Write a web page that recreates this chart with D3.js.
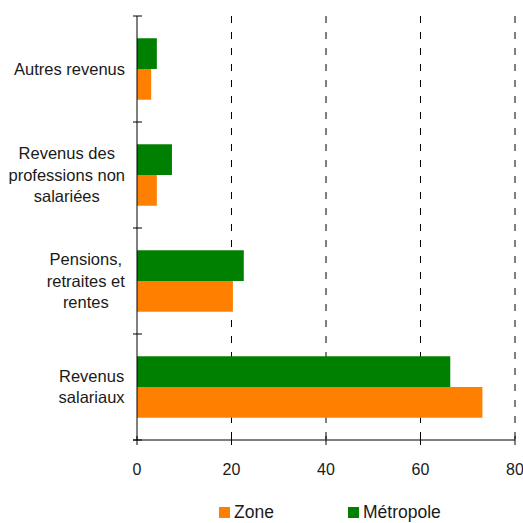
<!DOCTYPE html>
<html>
<head>
<meta charset="utf-8">
<script src="https://cdn.jsdelivr.net/npm/d3@7"></script>
<style>
  body { margin: 0; background: #fff; }
  svg text { font-family: "Liberation Sans", Arial, sans-serif; fill: #1a1a1a; }
</style>
</head>
<body>
<div id="chart"></div>
<script>
// categories, top to bottom
const categories = [
    ['Autres revenus'],
    ['Revenus des', 'professions non', 'salariées'],
    ['Pensions,', 'retraites et', 'rentes'],
    ['Revenus', 'salariaux']
];
const zone = [3.0, 4.2, 20.3, 73.1];
const metropole = [4.2, 7.4, 22.6, 66.3];
const xTicks = [0, 20, 40, 60, 80];
const seriesNames = ['Zone', 'Métropole'];
const seriesColors = ['#ff8000', '#008000'];

const width = 523, height = 523;
const margin = { top: 16, left: 137, right: 8, bottom: 83 };

const svg = d3.select('#chart').append('svg')
    .attr('width', width)
    .attr('height', height);

const x = d3.scaleLinear().domain([0, 80]).range([margin.left, 515]);
const y = d3.scaleBand().domain(d3.range(categories.length))
    .range([margin.top, height - margin.bottom])
    .paddingInner(0.42).paddingOuter(0.21);

//  dashed grid lines
svg.selectAll('.grid')
    .data(xTicks.filter(d => d > 0)).enter()
    .append('line')
    .attr('x1', d => x(d)).attr('x2', d => x(d))
    .attr('y1', margin.top).attr('y2', height - margin.bottom)
    .attr('stroke', '#000').attr('stroke-width', 1)
    .attr('stroke-dasharray', '7,9');

//  bars: metropole on top, zone below
const half = y.bandwidth() / 2;
svg.selectAll('.bar-metro')
    .data(metropole).enter()
    .append('rect')
    .attr('x', x(0))
    .attr('y', (d, i) => y(i))
    .attr('width', d => x(d) - x(0))
    .attr('height', half)
    .attr('fill', seriesColors[1]);

svg.selectAll('.bar-zone')
    .data(zone).enter()
    .append('rect')
    .attr('x', x(0))
    .attr('y', (d, i) => y(i) + half)
    .attr('width', d => x(d) - x(0))
    .attr('height', half)
    .attr('fill', seriesColors[0]);

//  x axis
const bottom = height - margin.bottom;
svg.append('line')
    .attr('x1', x(0) - 4).attr('x2', x(80))
    .attr('y1', bottom).attr('y2', bottom)
    .attr('stroke', '#000');
svg.selectAll('.xtick')
    .data(xTicks).enter()
    .append('line')
    .attr('x1', d => x(d)).attr('x2', d => x(d))
    .attr('y1', bottom - 4).attr('y2', bottom + 5)
    .attr('stroke', '#000');
svg.selectAll('.xlabel')
    .data(xTicks).enter()
    .append('text')
    .attr('x', d => x(d))
    .attr('y', bottom + 35)
    .attr('text-anchor', 'middle')
    .style('font-size', '16px')
    .text(d => d);

//  y axis with ticks on the category boundaries
svg.append('line')
    .attr('x1', x(0)).attr('x2', x(0))
    .attr('y1', margin.top).attr('y2', bottom)
    .attr('stroke', '#000');
svg.selectAll('.ytick')
    .data(d3.range(categories.length + 1)).enter()
    .append('line')
    .attr('x1', x(0) - 4).attr('x2', x(0) + 5)
    .attr('y1', d => margin.top + d * (bottom - margin.top) / categories.length)
    .attr('y2', d => margin.top + d * (bottom - margin.top) / categories.length)
    .attr('stroke', '#000');

//  category labels, each block centred, right edge at 125
const lineH = 21.5;
categories.forEach((lines, i) => {
    const cy = y(i) + y.bandwidth() / 2;
    const g = svg.append('text')
        .attr('text-anchor', 'middle')
        .style('font-size', '16.5px');
    lines.forEach((l, j) => {
        g.append('tspan')
            .attr('x', 0)
            .attr('y', cy + (j - (lines.length - 1) / 2) * lineH + 5.5)
            .text(l);
    });
    const w = g.node().getBBox().width;
    g.selectAll('tspan').attr('x', 125 - w / 2);
});

//  legend
const legendX = [219, 348];
seriesNames.forEach((name, i) => {
    svg.append('rect')
        .attr('x', legendX[i]).attr('y', 507)
        .attr('width', 11).attr('height', 11)
        .attr('fill', seriesColors[i]);
    svg.append('text')
        .attr('x', legendX[i] + 15).attr('y', 518)
        .style('font-size', '17.5px')
        .text(name);
});
</script>
</body>
</html>
